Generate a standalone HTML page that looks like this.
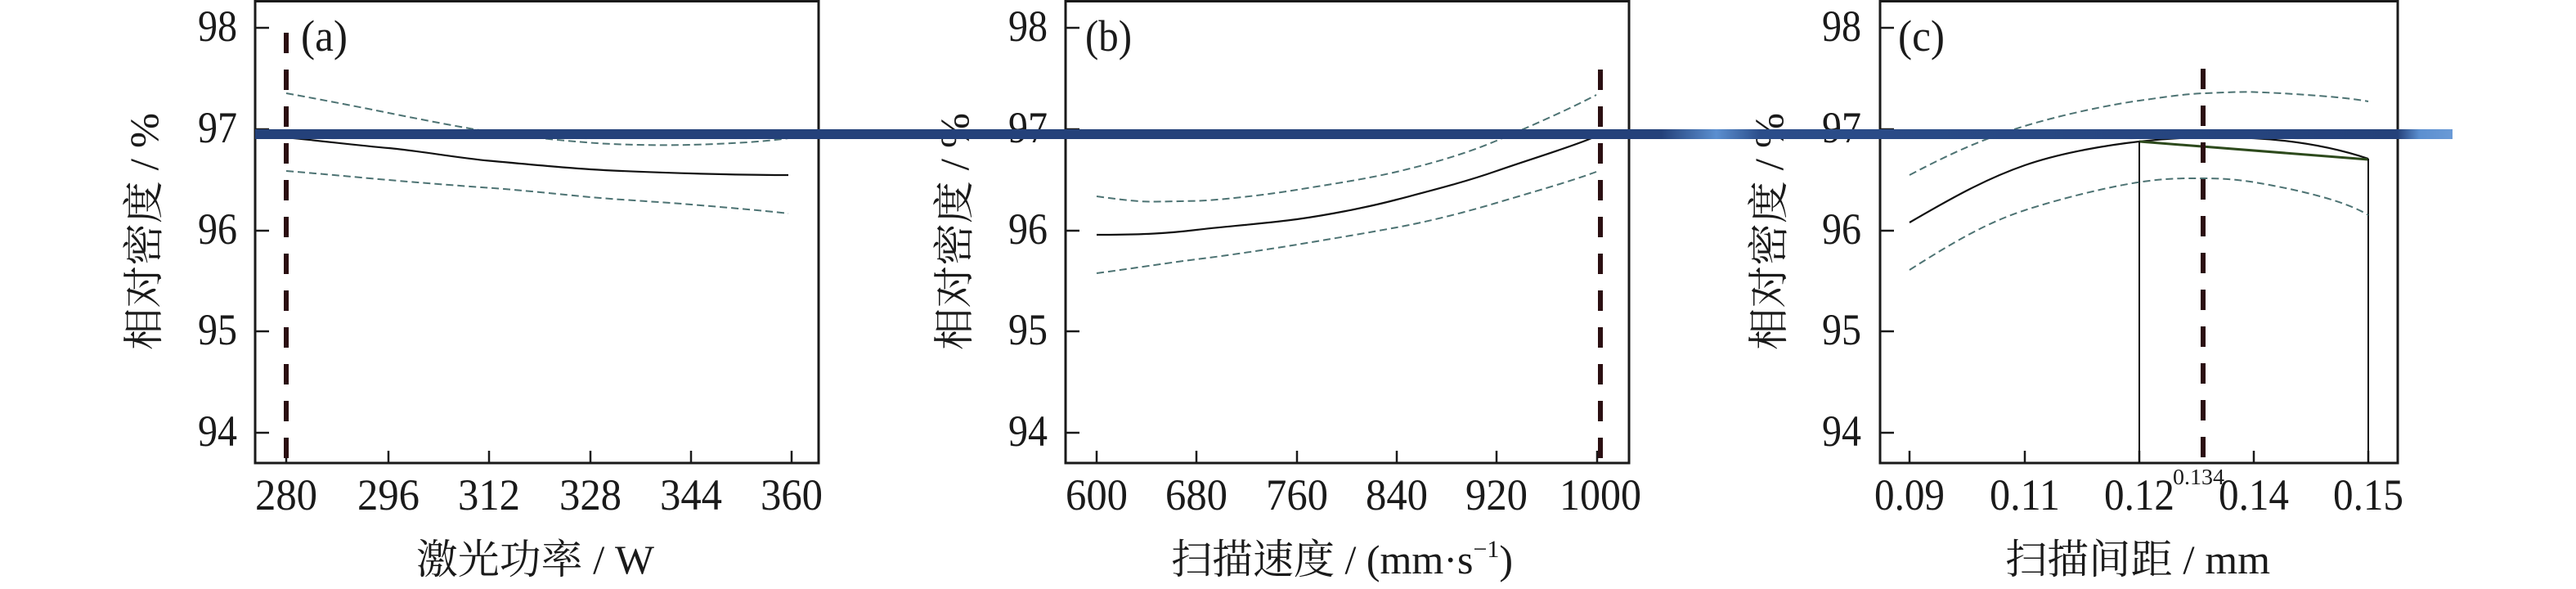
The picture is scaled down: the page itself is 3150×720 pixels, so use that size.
<!DOCTYPE html>
<html><head><meta charset="utf-8"><style>
html,body{margin:0;padding:0;background:#fff;}
svg{display:block;}
text{font-family:"Liberation Serif","Noto Serif CJK SC",serif;fill:#1a1a1a;}
.t{font-size:54px;}
.cj{font-family:"Liberation Serif","Noto Serif CJK SC",serif;font-size:50px;}
.fr{fill:none;stroke:#1a1a1a;stroke-width:3;}
.tk{stroke:#1a1a1a;stroke-width:2.5;}
.s{fill:none;stroke:#111;stroke-width:2.2;}
.d{fill:none;stroke:#4d7373;stroke-width:2;stroke-dasharray:9 5;}
.r{stroke:#2b0f12;stroke-width:6;stroke-dasharray:25 20;}
</style></head><body>
<svg width="3150" height="720" viewBox="0 0 3150 720" xmlns="http://www.w3.org/2000/svg">
<defs>
<linearGradient id="bar" x1="312" x2="2999" y1="0" y2="0" gradientUnits="userSpaceOnUse">
<stop offset="0" stop-color="#24417a"/>
<stop offset="0.64" stop-color="#24417a"/>
<stop offset="0.665" stop-color="#5b8fd0"/>
<stop offset="0.685" stop-color="#2b4d8a"/>
<stop offset="0.975" stop-color="#24417a"/>
<stop offset="0.985" stop-color="#5b8fd0"/>
<stop offset="1" stop-color="#6a9ad6"/>
</linearGradient>
</defs>

<!-- Panel a -->
<rect class="fr" x="312" y="1.5" width="689" height="564.5"/>
<g class="tk">
<line x1="312" y1="34" x2="329" y2="34"/><line x1="312" y1="158" x2="329" y2="158"/><line x1="312" y1="282" x2="329" y2="282"/><line x1="312" y1="405" x2="329" y2="405"/><line x1="312" y1="529" x2="329" y2="529"/>
<line x1="350" y1="566" x2="350" y2="551"/><line x1="475" y1="566" x2="475" y2="551"/><line x1="598" y1="566" x2="598" y2="551"/><line x1="722" y1="566" x2="722" y2="551"/><line x1="845" y1="566" x2="845" y2="551"/><line x1="968" y1="566" x2="968" y2="551"/>
</g>
<g class="t" text-anchor="end" lengthAdjust="spacingAndGlyphs"><text x="290" y="50" textLength="48" lengthAdjust="spacingAndGlyphs">98</text><text x="290" y="174" textLength="48" lengthAdjust="spacingAndGlyphs">97</text><text x="290" y="298" textLength="48" lengthAdjust="spacingAndGlyphs">96</text><text x="290" y="421" textLength="48" lengthAdjust="spacingAndGlyphs">95</text><text x="290" y="545" textLength="48" lengthAdjust="spacingAndGlyphs">94</text></g>
<g class="t" text-anchor="middle"><text x="350" y="623" textLength="76" lengthAdjust="spacingAndGlyphs">280</text><text x="475" y="623" textLength="76" lengthAdjust="spacingAndGlyphs">296</text><text x="598" y="623" textLength="76" lengthAdjust="spacingAndGlyphs">312</text><text x="722" y="623" textLength="76" lengthAdjust="spacingAndGlyphs">328</text><text x="845" y="623" textLength="76" lengthAdjust="spacingAndGlyphs">344</text><text x="968" y="623" textLength="76" lengthAdjust="spacingAndGlyphs">360</text></g>
<text class="cj" x="509" y="701" textLength="291" lengthAdjust="spacingAndGlyphs">激光功率 / W</text>
<text class="cj" transform="translate(193,428) rotate(-90)" textLength="290" lengthAdjust="spacingAndGlyphs">相对密度 / %</text>
<text class="t" x="368" y="62" textLength="57" lengthAdjust="spacingAndGlyphs">(a)</text>
<path class="s" d="M350,168 C400,173 440,178 475,181 S560,193 598,196.5 S690,205 722,207 S810,211 845,212 S930,214 964,214"/>
<path class="d" d="M350,114 C400,123 440,131 475,138 S560,155 598,161 S690,172 722,174.5 S810,178 845,177 S930,174 964,169"/>
<path class="d" d="M350,209 C400,213 440,217 475,220 S560,227 598,229.6 S690,238 722,241 S810,247 845,250 S930,257 964,261"/>
<line class="r" x1="350" y1="40" x2="350" y2="566"/>

<!-- Panel b -->
<rect class="fr" x="1303" y="1.5" width="689" height="564.5"/>
<g class="tk">
<line x1="1303" y1="34" x2="1320" y2="34"/><line x1="1303" y1="158" x2="1320" y2="158"/><line x1="1303" y1="282" x2="1320" y2="282"/><line x1="1303" y1="405" x2="1320" y2="405"/><line x1="1303" y1="529" x2="1320" y2="529"/>
<line x1="1341" y1="566" x2="1341" y2="551"/><line x1="1463" y1="566" x2="1463" y2="551"/><line x1="1586" y1="566" x2="1586" y2="551"/><line x1="1708" y1="566" x2="1708" y2="551"/><line x1="1830" y1="566" x2="1830" y2="551"/><line x1="1953" y1="566" x2="1953" y2="551"/>
</g>
<g class="t" text-anchor="end"><text x="1281" y="50" textLength="48" lengthAdjust="spacingAndGlyphs">98</text><text x="1281" y="174" textLength="48" lengthAdjust="spacingAndGlyphs">97</text><text x="1281" y="298" textLength="48" lengthAdjust="spacingAndGlyphs">96</text><text x="1281" y="421" textLength="48" lengthAdjust="spacingAndGlyphs">95</text><text x="1281" y="545" textLength="48" lengthAdjust="spacingAndGlyphs">94</text></g>
<g class="t" text-anchor="middle"><text x="1341" y="623" textLength="76" lengthAdjust="spacingAndGlyphs">600</text><text x="1463" y="623" textLength="76" lengthAdjust="spacingAndGlyphs">680</text><text x="1586" y="623" textLength="76" lengthAdjust="spacingAndGlyphs">760</text><text x="1708" y="623" textLength="76" lengthAdjust="spacingAndGlyphs">840</text><text x="1830" y="623" textLength="76" lengthAdjust="spacingAndGlyphs">920</text><text x="1957" y="623" textLength="100" lengthAdjust="spacingAndGlyphs">1000</text></g>
<text class="cj" x="1432" y="701">扫描速度 / (mm·s<tspan font-size="30" dy="-20">−1</tspan><tspan dy="20">)</tspan></text>
<text class="cj" transform="translate(1184,428) rotate(-90)" textLength="290" lengthAdjust="spacingAndGlyphs">相对密度 / %</text>
<text class="t" x="1327" y="62" textLength="57" lengthAdjust="spacingAndGlyphs">(b)</text>
<path class="s" d="M1341,287 C1400,287 1430,285 1463,281 S1550,273 1586,268 S1670,254 1708,244 S1790,223 1830,209 S1920,180 1946,169"/>
<path class="d" d="M1341,240 C1370,244 1390,246.5 1407,246.5 S1440,246 1463,245.6 S1550,238 1586,232 S1670,219 1708,210 S1790,189 1830,172 S1920,133 1952,116"/>
<path class="d" d="M1341,334 C1400,326 1430,321 1463,317 S1550,305 1586,299 S1670,285 1708,278 S1790,260 1830,248 S1920,222 1952,210"/>
<line class="r" x1="1957" y1="85" x2="1957" y2="566"/>

<!-- Panel c -->
<rect class="fr" x="2299" y="1.5" width="633" height="564.5"/>
<g class="tk">
<line x1="2299" y1="34" x2="2316" y2="34"/><line x1="2299" y1="158" x2="2316" y2="158"/><line x1="2299" y1="282" x2="2316" y2="282"/><line x1="2299" y1="405" x2="2316" y2="405"/><line x1="2299" y1="529" x2="2316" y2="529"/>
<line x1="2335" y1="566" x2="2335" y2="551"/><line x1="2476" y1="566" x2="2476" y2="551"/><line x1="2616" y1="566" x2="2616" y2="551"/><line x1="2756" y1="566" x2="2756" y2="551"/><line x1="2896" y1="566" x2="2896" y2="551"/>
</g>
<g class="t" text-anchor="end"><text x="2276" y="50" textLength="48" lengthAdjust="spacingAndGlyphs">98</text><text x="2276" y="174" textLength="48" lengthAdjust="spacingAndGlyphs">97</text><text x="2276" y="298" textLength="48" lengthAdjust="spacingAndGlyphs">96</text><text x="2276" y="421" textLength="48" lengthAdjust="spacingAndGlyphs">95</text><text x="2276" y="545" textLength="48" lengthAdjust="spacingAndGlyphs">94</text></g>
<g class="t" text-anchor="middle"><text x="2335" y="623" textLength="86" lengthAdjust="spacingAndGlyphs">0.09</text><text x="2476" y="623" textLength="86" lengthAdjust="spacingAndGlyphs">0.11</text><text x="2616" y="623" textLength="86" lengthAdjust="spacingAndGlyphs">0.12</text><text x="2756" y="623" textLength="86" lengthAdjust="spacingAndGlyphs">0.14</text><text x="2896" y="623" textLength="86" lengthAdjust="spacingAndGlyphs">0.15</text></g>
<text x="2657" y="592" font-size="27" textLength="63" lengthAdjust="spacingAndGlyphs">0.134</text>
<text class="cj" x="2452" y="701" textLength="324" lengthAdjust="spacingAndGlyphs">扫描间距 / mm</text>
<text class="cj" transform="translate(2180,428) rotate(-90)" textLength="290" lengthAdjust="spacingAndGlyphs">相对密度 / %</text>
<text class="t" x="2321" y="62" textLength="57" lengthAdjust="spacingAndGlyphs">(c)</text>
<path class="s" d="M2335,272 C2390,240 2430,218 2476,202 S2580,177 2616,173 S2700,166 2756,169 S2860,182 2896,194"/>
<line x1="2616" y1="173" x2="2896" y2="195" stroke="#2d4a1c" stroke-width="3"/>
<line x1="2616" y1="173" x2="2616" y2="566" stroke="#111" stroke-width="2"/>
<line x1="2896" y1="194" x2="2896" y2="566" stroke="#111" stroke-width="2"/>
<path class="d" d="M2335,214 C2390,185 2430,168 2476,154 S2580,128 2616,123 S2670,115 2695,114 S2740,112 2756,112.5 S2860,117 2896,124"/>
<path class="d" d="M2335,330 C2390,295 2430,272 2476,257 S2580,228 2616,222.7 S2670,218 2695,218 S2740,220 2756,222.7 S2860,240 2896,263"/>
<line class="r" x1="2694" y1="84" x2="2694" y2="566"/>

<!-- blue bar -->
<rect x="312" y="158" width="2687" height="12" fill="url(#bar)"/>
</svg>
</body></html>
